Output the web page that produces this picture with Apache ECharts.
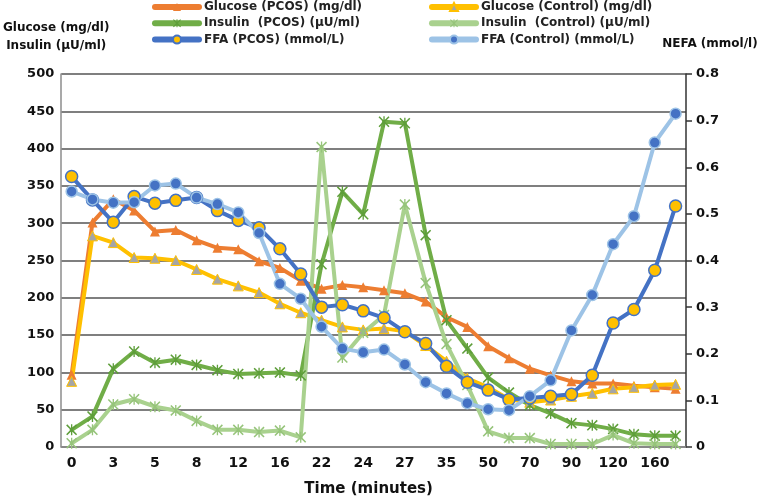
<!DOCTYPE html>
<html>
<head>
<meta charset="utf-8">
<script src="https://cdn.jsdelivr.net/npm/echarts@6/dist/echarts.min.js"></script>
<style>html,body{margin:0;padding:0;background:#fff;}#c{width:762px;height:502px;}</style>
</head>
<body>
<div id="c"></div>
<script>
const categories = ['0','2','3','4','5','6','8','10','12','14','16','19','22','23','24','25','27','30','35','40','50','60','70','80','90','100','120','140','160','180'];
const glucosePCOS = [97, 301, 332, 317, 289, 291, 277, 267, 265, 249, 240, 223, 212, 217, 214, 210, 206, 195, 174, 161, 135, 119, 105, 96, 88, 85, 85, 82, 80, 78];
const glucoseControl = [88, 283, 274, 254, 253, 250, 238, 225, 216, 207, 192, 180, 170, 161, 157, 159, 155, 136, 115, 92, 80, 64, 60, 63, 68, 72, 78, 80, 83, 84];
const insulinPCOS = [23, 41, 105, 128, 113, 117, 110, 103, 98, 99, 100, 96, 245, 342, 312, 436, 434, 284, 170, 132, 93, 73, 56, 45, 32, 29, 24, 17, 15, 15];
const insulinControl = [5, 23, 57, 64, 54, 49, 35, 23, 23, 20, 22, 13, 402, 120, 153, 177, 325, 220, 138, 83, 21, 12, 12, 4, 4, 4, 16, 5, 4, 4];
const ffaPCOS = [0.58, 0.53, 0.482, 0.537, 0.523, 0.529, 0.535, 0.507, 0.486, 0.470, 0.425, 0.371, 0.300, 0.305, 0.292, 0.277, 0.247, 0.222, 0.173, 0.139, 0.122, 0.102, 0.105, 0.109, 0.113, 0.154, 0.266, 0.295, 0.379, 0.517];
const ffaControl = [0.548, 0.531, 0.524, 0.525, 0.561, 0.565, 0.535, 0.521, 0.503, 0.459, 0.350, 0.318, 0.258, 0.211, 0.203, 0.209, 0.177, 0.139, 0.115, 0.094, 0.081, 0.079, 0.109, 0.143, 0.250, 0.326, 0.435, 0.495, 0.653, 0.715];
const leftTicks = {min: 0, max: 500, interval: 50};
const rightTicks = {min: 0, max: 0.8, interval: 0.1};

const FONT = 'DejaVu Sans';
const xMark = 'path://M1,0 L5,4 L9,0 L10,1 L6,5 L10,9 L9,10 L5,6 L1,10 L0,9 L4,5 L0,1 Z M4.4,0 L5.6,0 L5.6,10 L4.4,10 Z';

const chart = echarts.init(document.getElementById('c'), null, {renderer: 'canvas'});
const lineBase = {type: 'line', smooth: false, lineStyle: {width: 4, cap: 'round', join: 'round'}};
const legendText = {fontFamily: FONT, fontSize: 12, fontWeight: 'bold', color: '#222', lineHeight: 14};
chart.setOption({
  animation: false,
  backgroundColor: '#fff',
  textStyle: {fontFamily: FONT},
  grid: {left: 50.7, right: 76, top: 74, bottom: 53, containLabel: false},
  legend: [
    {orient: 'vertical', left: 147, top: -5, itemWidth: 44, itemHeight: 10, itemGap: 2.3,
     textStyle: legendText, lineStyle: {width: 6},
     data: ['Glucose (PCOS) (mg/dl)', 'Insulin  (PCOS) (µU/ml)', 'FFA (PCOS) (mmol/L)']},
    {orient: 'vertical', left: 424, top: -5, itemWidth: 44, itemHeight: 10, itemGap: 2.3,
     textStyle: legendText, lineStyle: {width: 6},
     data: ['Glucose (Control) (mg/dl)', 'Insulin  (Control) (µU/ml)', 'FFA (Control) (mmol/L)']}
  ],
  xAxis: {
    type: 'category', data: categories, boundaryGap: true,
    name: 'Time (minutes)', nameLocation: 'middle', nameGap: 35,
    nameTextStyle: {fontFamily: FONT, fontSize: 15, fontWeight: 'bold', color: '#111', padding: [0, 10, 0, 0]},
    axisLine: {show: true, lineStyle: {color: '#8c8c8c', width: 1.5}},
    axisTick: {show: false},
    axisLabel: {interval: 1, fontFamily: FONT, fontSize: 14, fontWeight: 'bold', color: '#111', margin: 9}
  },
  yAxis: [
    {type: 'value', min: leftTicks.min, max: leftTicks.max, interval: leftTicks.interval, position: 'left',
     name: 'Glucose (mg/dl)\nInsulin (µU/ml)', nameLocation: 'end', nameGap: 19,
     nameTextStyle: {fontFamily: FONT, fontSize: 12, fontWeight: 'bold', color: '#111', lineHeight: 18, padding: [0, 10, 0, 0]},
     axisLine: {show: true, lineStyle: {color: '#8c8c8c', width: 1.5}},
     axisTick: {show: false},
     axisLabel: {fontFamily: FONT, fontSize: 13, fontWeight: 'bold', color: '#111', margin: 7},
     splitLine: {show: true, lineStyle: {color: '#555', width: 1.5}}},
    {type: 'value', min: rightTicks.min, max: rightTicks.max, interval: rightTicks.interval, position: 'right',
     name: 'NEFA (mmol/l)', nameLocation: 'end', nameGap: 24,
     nameTextStyle: {fontFamily: FONT, fontSize: 12, fontWeight: 'bold', color: '#111', padding: [0, 0, 0, 48]},
     axisLine: {show: true, lineStyle: {color: '#333', width: 1.5}},
     axisTick: {show: true, length: 6, lineStyle: {color: '#333', width: 1.5}},
     axisLabel: {fontFamily: FONT, fontSize: 13, fontWeight: 'bold', color: '#111', margin: 10},
     splitLine: {show: false}}
  ],
  series: [
    Object.assign({}, lineBase, {name: 'Glucose (PCOS) (mg/dl)', data: glucosePCOS, yAxisIndex: 0,
      color: '#ED7D31', symbol: 'triangle', symbolSize: 10,
      itemStyle: {color: '#ED7D31'}, lineStyle: {width: 4, color: '#ED7D31', cap: 'round', join: 'round'}}),
    Object.assign({}, lineBase, {name: 'Glucose (Control) (mg/dl)', data: glucoseControl, yAxisIndex: 0,
      color: '#FFC000', symbol: 'triangle', symbolSize: 10,
      itemStyle: {color: '#A5A5A5', borderColor: '#FFC000', borderWidth: 1}, lineStyle: {width: 4, color: '#FFC000', cap: 'round', join: 'round'}}),
    Object.assign({}, lineBase, {name: 'Insulin  (PCOS) (µU/ml)', data: insulinPCOS, yAxisIndex: 0,
      color: '#70AD47', symbol: xMark, symbolSize: 11,
      itemStyle: {color: '#5E9E3A'}, lineStyle: {width: 4, color: '#70AD47', cap: 'round', join: 'round'}}),
    Object.assign({}, lineBase, {name: 'Insulin  (Control) (µU/ml)', data: insulinControl, yAxisIndex: 0,
      color: '#A9D18E', symbol: xMark, symbolSize: 11,
      itemStyle: {color: '#96C47A'}, lineStyle: {width: 4, color: '#A9D18E', cap: 'round', join: 'round'}}),
    Object.assign({}, lineBase, {name: 'FFA (PCOS) (mmol/L)', data: ffaPCOS, yAxisIndex: 1,
      color: '#4472C4', symbol: 'circle', symbolSize: 12,
      itemStyle: {color: '#FFC000', borderColor: '#4472C4', borderWidth: 1.5}, lineStyle: {width: 4, color: '#4472C4', cap: 'round', join: 'round'}}),
    Object.assign({}, lineBase, {name: 'FFA (Control) (mmol/L)', data: ffaControl, yAxisIndex: 1,
      color: '#9DC3E6', symbol: 'circle', symbolSize: 11,
      itemStyle: {color: '#4472C4', borderColor: '#9DC3E6', borderWidth: 1.5}, lineStyle: {width: 4, color: '#9DC3E6', cap: 'round', join: 'round'}})
  ]
});
</script>
</body>
</html>
